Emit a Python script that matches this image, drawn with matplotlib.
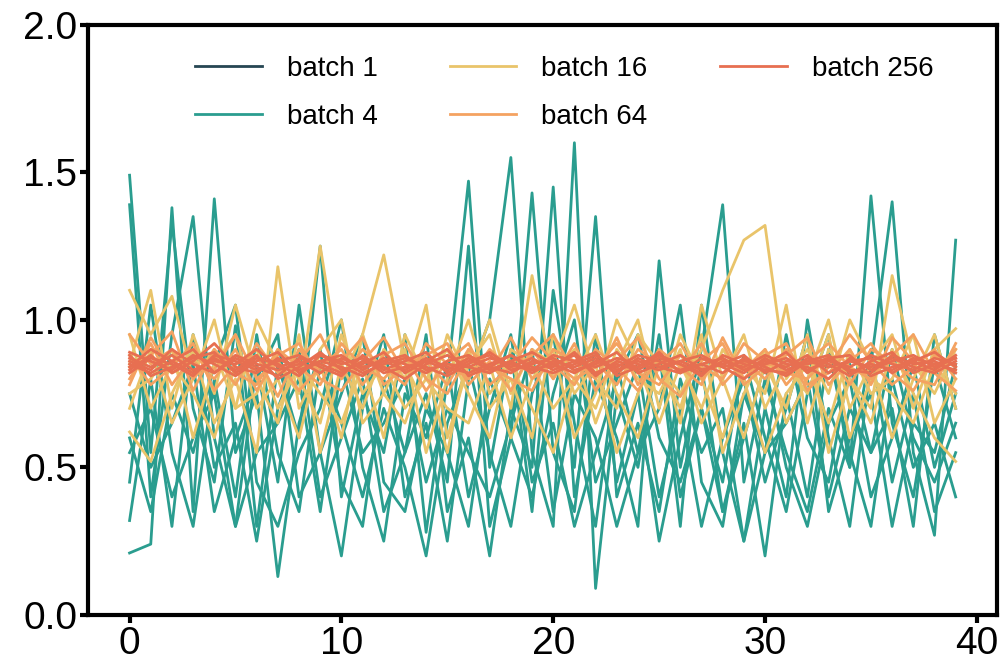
import matplotlib.pyplot as plt

plt.rcParams['font.family'] = ['Liberation Sans', 'DejaVu Sans']

# colours per batch size
colors = {
    "batch 1": "#264653",
    "batch 4": "#2a9d8f",
    "batch 16": "#e9c46a",
    "batch 64": "#f4a261",
    "batch 256": "#e76f51",
}

# batch 1 runs fall outside the plotted range, only the legend entry is visible
batch1_runs = [[]]

batch4_runs = [
    [1.49, 0.55, 1.33, 0.70, 0.45, 0.98, 0.30, 0.85, 0.60, 1.25, 0.40, 0.75, 0.55, 0.95, 0.28, 0.80, 1.47, 0.50, 0.90, 0.35,
     1.10, 0.65, 0.30, 0.85, 0.55, 0.95, 0.40, 0.70, 0.45, 0.88, 0.60, 0.35, 0.75, 0.95, 0.50, 1.42, 0.65, 0.40, 0.85, 0.60],
    [1.39, 0.40, 0.95, 1.35, 0.60, 0.30, 0.85, 0.45, 1.05, 0.55, 0.20, 0.70, 0.95, 0.40, 0.65, 0.25, 0.80, 1.00, 1.55, 0.55,
     0.30, 1.60, 0.09, 0.75, 0.50, 0.90, 0.30, 1.05, 0.55, 0.25, 0.70, 0.40, 1.00, 0.60, 0.30, 0.85, 1.40, 0.55, 0.27, 1.27],
    [0.21, 0.24, 1.38, 0.35, 1.41, 0.55, 0.75, 0.13, 0.65, 0.90, 0.45, 0.30, 0.80, 0.55, 0.95, 0.35, 0.60, 0.20, 0.70, 0.50,
     1.45, 0.40, 0.80, 0.60, 0.30, 1.20, 0.50, 0.85, 0.35, 0.65, 0.20, 0.75, 0.40, 0.90, 0.55, 0.30, 0.80, 0.50, 0.65, 0.40],
    [0.32, 0.80, 0.30, 0.95, 0.50, 0.65, 0.25, 0.70, 0.90, 0.40, 0.60, 0.80, 0.35, 0.55, 0.75, 0.45, 1.25, 0.30, 0.60, 1.43,
     0.55, 0.35, 0.95, 0.45, 0.75, 0.25, 0.60, 0.90, 1.39, 0.45, 0.80, 0.55, 0.35, 0.70, 0.50, 0.90, 0.45, 0.75, 0.35, 0.55],
    [0.45, 1.05, 0.55, 0.30, 0.80, 0.40, 0.95, 0.55, 0.35, 0.85, 0.65, 0.40, 0.70, 0.50, 0.20, 0.65, 0.85, 0.55, 0.30, 0.75,
     0.95, 0.50, 1.35, 0.40, 0.65, 0.35, 0.80, 0.55, 0.70, 0.25, 0.55, 0.95, 0.60, 0.45, 0.85, 0.55, 0.70, 0.30, 0.95, 0.70],
    [0.60, 0.35, 0.75, 0.55, 0.85, 1.05, 0.45, 0.30, 0.55, 0.70, 1.00, 0.50, 0.25, 0.75, 0.60, 0.85, 0.40, 0.70, 0.95, 0.45,
     0.65, 0.30, 0.55, 0.80, 0.95, 0.60, 0.45, 0.70, 0.35, 0.60, 0.85, 0.50, 0.30, 0.65, 0.80, 0.40, 0.60, 0.85, 0.50, 0.75],
    [0.75, 0.50, 0.65, 0.85, 0.35, 0.60, 0.80, 0.95, 0.40, 0.55, 0.75, 0.95, 0.45, 0.35, 0.70, 0.55, 0.30, 0.80, 0.60, 0.40,
     0.75, 1.00, 0.45, 0.65, 0.85, 0.40, 0.70, 0.30, 0.60, 0.80, 0.45, 0.70, 0.95, 0.35, 0.60, 0.75, 0.30, 0.65, 0.55, 0.85],
    [0.55, 0.70, 0.40, 0.60, 0.75, 0.30, 0.55, 0.65, 0.80, 0.35, 0.85, 0.55, 0.65, 0.80, 0.45, 0.70, 0.55, 0.40, 0.65, 0.90,
     0.35, 0.75, 0.60, 0.30, 0.55, 0.70, 1.05, 0.45, 0.30, 0.75, 0.55, 0.65, 0.80, 0.40, 0.70, 0.55, 0.90, 0.60, 0.45, 0.65],
]

batch16_runs = [
    [1.10, 0.95, 1.08, 0.80, 0.90, 0.70, 1.00, 0.85, 0.75, 1.25, 0.80, 0.95, 1.22, 0.85, 0.70, 0.95, 0.80, 1.00, 0.75, 0.90,
     0.85, 1.05, 0.80, 0.70, 0.95, 0.85, 0.75, 0.90, 1.10, 1.27, 1.32, 0.80, 0.90, 0.75, 1.00, 0.85, 0.95, 0.70, 0.90, 0.97],
    [0.62, 0.52, 0.75, 0.90, 0.65, 0.80, 0.55, 1.18, 0.70, 0.85, 0.60, 0.95, 0.75, 0.65, 0.85, 0.55, 0.90, 0.70, 0.80, 0.60,
     0.95, 0.75, 0.85, 0.55, 0.75, 0.90, 0.65, 1.05, 0.80, 0.60, 0.85, 0.70, 0.95, 0.55, 0.80, 0.65, 0.90, 0.75, 0.60, 0.52],
    [0.85, 1.10, 0.70, 0.95, 0.75, 1.05, 0.80, 0.65, 0.95, 0.55, 0.85, 0.70, 0.90, 0.80, 1.05, 0.60, 0.85, 0.95, 0.70, 1.15,
     0.80, 0.90, 0.65, 0.85, 1.00, 0.70, 0.95, 0.80, 0.60, 0.85, 0.75, 1.05, 0.65, 0.90, 0.80, 0.70, 1.15, 0.85, 0.75, 0.90],
    [0.75, 0.80, 0.90, 0.60, 0.85, 0.95, 0.70, 0.80, 0.60, 0.90, 1.00, 0.65, 0.75, 0.90, 0.55, 0.80, 1.00, 0.75, 0.85, 0.70,
     0.55, 0.80, 0.95, 0.75, 0.60, 0.85, 0.70, 0.95, 0.55, 0.75, 0.90, 0.65, 0.80, 1.00, 0.70, 0.85, 0.60, 0.80, 0.95, 0.70],
    [0.95, 0.70, 0.85, 0.75, 0.60, 0.85, 0.90, 0.70, 0.85, 0.75, 0.65, 0.85, 0.60, 0.95, 0.80, 0.70, 0.65, 0.85, 0.60, 0.80,
     0.90, 0.60, 0.75, 1.00, 0.85, 0.65, 0.85, 0.70, 0.90, 0.80, 0.55, 0.75, 0.85, 0.65, 0.90, 0.75, 0.80, 0.95, 0.65, 0.80],
    [0.70, 0.90, 0.65, 0.80, 1.00, 0.70, 0.75, 0.90, 0.80, 0.65, 0.95, 0.75, 0.85, 0.70, 0.80, 0.90, 0.75, 0.60, 0.90, 0.85,
     0.70, 0.80, 0.70, 0.90, 0.80, 0.75, 0.90, 0.65, 0.80, 0.95, 0.70, 0.85, 0.75, 0.95, 0.60, 0.80, 0.75, 0.65, 0.85, 0.75],
]

batch64_runs = [
    [0.95, 0.85, 0.90, 0.80, 0.88, 0.78, 0.92, 0.82, 0.86, 0.95, 0.80, 0.90, 0.84, 0.78, 0.92, 0.85, 0.80, 0.90, 0.83, 0.88,
     0.95, 0.82, 0.86, 0.78, 0.90, 0.85, 0.92, 0.80, 0.87, 0.83, 0.90, 0.78, 0.86, 0.92, 0.84, 0.80, 0.88, 0.95, 0.82, 0.90],
    [0.80, 0.92, 0.78, 0.88, 0.83, 0.95, 0.80, 0.86, 0.76, 0.84, 0.90, 0.78, 0.88, 0.92, 0.80, 0.75, 0.88, 0.82, 0.94, 0.80,
     0.85, 0.78, 0.90, 0.84, 0.76, 0.88, 0.82, 0.92, 0.78, 0.86, 0.80, 0.90, 0.76, 0.84, 0.95, 0.86, 0.78, 0.84, 0.90, 0.80],
    [0.88, 0.78, 0.84, 0.92, 0.76, 0.85, 0.88, 0.74, 0.90, 0.82, 0.86, 0.94, 0.78, 0.84, 0.88, 0.92, 0.78, 0.86, 0.76, 0.90,
     0.80, 0.92, 0.76, 0.86, 0.94, 0.80, 0.74, 0.86, 0.92, 0.78, 0.84, 0.88, 0.94, 0.78, 0.86, 0.92, 0.82, 0.76, 0.88, 0.84],
    [0.84, 0.88, 0.96, 0.76, 0.90, 0.82, 0.78, 0.90, 0.84, 0.78, 0.92, 0.84, 0.80, 0.88, 0.76, 0.86, 0.92, 0.78, 0.84, 0.94,
     0.86, 0.80, 0.84, 0.92, 0.82, 0.78, 0.88, 0.84, 0.80, 0.92, 0.86, 0.82, 0.80, 0.88, 0.78, 0.90, 0.86, 0.80, 0.78, 0.92],
    [0.78, 0.94, 0.82, 0.86, 0.80, 0.90, 0.76, 0.88, 0.92, 0.80, 0.76, 0.86, 0.94, 0.82, 0.86, 0.78, 0.90, 0.84, 0.80, 0.76,
     0.90, 0.86, 0.80, 0.94, 0.78, 0.90, 0.84, 0.78, 0.94, 0.80, 0.88, 0.92, 0.78, 0.82, 0.90, 0.78, 0.94, 0.86, 0.82, 0.76],
]

batch256_runs = [
    [0.87, 0.84, 0.88, 0.83, 0.86, 0.85, 0.90, 0.84, 0.86, 0.82, 0.87, 0.84, 0.86, 0.88, 0.83, 0.85, 0.84, 0.87, 0.85, 0.83,
     0.88, 0.86, 0.84, 0.87, 0.85, 0.83, 0.86, 0.88, 0.84, 0.86, 0.85, 0.87, 0.83, 0.86, 0.84, 0.88, 0.85, 0.83, 0.87, 0.85],
    [0.83, 0.88, 0.82, 0.86, 0.92, 0.84, 0.82, 0.87, 0.83, 0.86, 0.84, 0.81, 0.86, 0.83, 0.87, 0.84, 0.82, 0.85, 0.88, 0.84,
     0.82, 0.85, 0.88, 0.83, 0.86, 0.84, 0.82, 0.85, 0.87, 0.83, 0.86, 0.84, 0.88, 0.82, 0.86, 0.84, 0.87, 0.84, 0.82, 0.86],
    [0.85, 0.82, 0.86, 0.90, 0.82, 0.87, 0.84, 0.81, 0.87, 0.85, 0.82, 0.86, 0.84, 0.80, 0.85, 0.88, 0.84, 0.82, 0.86, 0.89,
     0.85, 0.82, 0.86, 0.84, 0.88, 0.86, 0.83, 0.85, 0.82, 0.87, 0.84, 0.81, 0.86, 0.88, 0.82, 0.85, 0.83, 0.87, 0.85, 0.83],
    [0.89, 0.86, 0.83, 0.88, 0.85, 0.81, 0.86, 0.89, 0.82, 0.86, 0.88, 0.83, 0.87, 0.85, 0.82, 0.86, 0.88, 0.84, 0.82, 0.86,
     0.84, 0.89, 0.82, 0.85, 0.83, 0.87, 0.85, 0.82, 0.86, 0.84, 0.88, 0.85, 0.84, 0.80, 0.87, 0.83, 0.86, 0.88, 0.84, 0.87],
    [0.82, 0.87, 0.85, 0.81, 0.88, 0.86, 0.83, 0.86, 0.88, 0.84, 0.81, 0.88, 0.83, 0.86, 0.89, 0.82, 0.86, 0.88, 0.83, 0.85,
     0.87, 0.83, 0.85, 0.89, 0.82, 0.85, 0.88, 0.83, 0.85, 0.88, 0.82, 0.86, 0.85, 0.87, 0.83, 0.82, 0.88, 0.85, 0.86, 0.82],
    [0.86, 0.83, 0.90, 0.85, 0.82, 0.88, 0.85, 0.83, 0.85, 0.88, 0.85, 0.87, 0.82, 0.84, 0.86, 0.83, 0.87, 0.83, 0.86, 0.82,
     0.86, 0.84, 0.87, 0.82, 0.87, 0.84, 0.86, 0.83, 0.85, 0.82, 0.87, 0.83, 0.86, 0.84, 0.86, 0.87, 0.82, 0.86, 0.83, 0.88],
    [0.84, 0.90, 0.86, 0.82, 0.87, 0.83, 0.88, 0.80, 0.84, 0.89, 0.83, 0.85, 0.89, 0.82, 0.86, 0.90, 0.81, 0.84, 0.88, 0.83,
     0.85, 0.88, 0.81, 0.86, 0.84, 0.89, 0.82, 0.87, 0.84, 0.80, 0.85, 0.89, 0.82, 0.87, 0.88, 0.81, 0.84, 0.86, 0.89, 0.84],
    [0.88, 0.81, 0.84, 0.87, 0.89, 0.82, 0.87, 0.85, 0.81, 0.88, 0.86, 0.82, 0.85, 0.87, 0.84, 0.81, 0.85, 0.89, 0.84, 0.87,
     0.83, 0.86, 0.89, 0.81, 0.84, 0.88, 0.85, 0.81, 0.88, 0.85, 0.83, 0.82, 0.87, 0.85, 0.81, 0.86, 0.89, 0.82, 0.85, 0.87],
]

runs = {
    "batch 1": batch1_runs,
    "batch 4": batch4_runs,
    "batch 16": batch16_runs,
    "batch 64": batch64_runs,
    "batch 256": batch256_runs,
}

fig = plt.figure(figsize=(10.03, 6.67), dpi=100)
ax = fig.add_axes([0.088, 0.078, 0.906, 0.885])

for name, series in runs.items():
    for i, vals in enumerate(series):
        ax.plot(range(len(vals)), vals, color=colors[name], lw=2.0,
                label=name if i == 0 else None)

ax.set_xlim(-1.95, 40.95)
ax.set_ylim(0, 2.0)
ax.set_xticks([0, 10, 20, 30, 40])
ax.set_yticks([0.0, 0.5, 1.0, 1.5, 2.0])
ax.tick_params(labelsize=28, width=3, length=6, pad=2)
for sp in ax.spines.values():
    sp.set_linewidth(3)

ax.legend(ncol=3, frameon=False, fontsize=20, loc="upper left",
          bbox_to_anchor=(0.09, 0.99), handlelength=2.4, handletextpad=0.9,
          columnspacing=2.6, labelspacing=0.8)

plt.savefig("out.png", dpi=100)
